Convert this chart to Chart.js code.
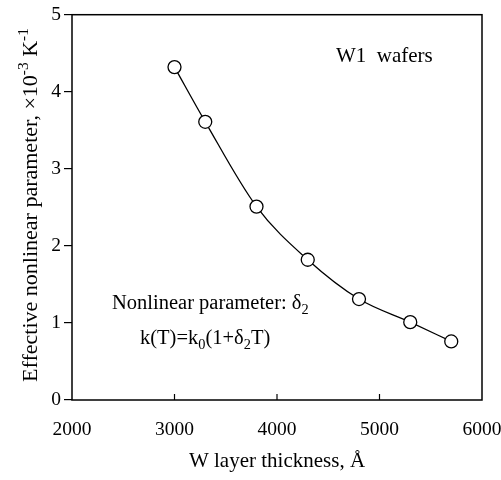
<!DOCTYPE html>
<html lang="en">
<head>
  <meta charset="UTF-8">
  <title>Effective nonlinear parameter vs W layer thickness</title>
  <script src="https://cdn.jsdelivr.net/npm/chart.js@4"></script>
  <style>
    html, body { margin: 0; padding: 0; background: #ffffff; }
    #wrap { width: 501px; height: 480px; }
  </style>
</head>
<body>
  <div id="wrap"><canvas id="grafico"></canvas></div>

  <script>
    // data
    const thickness = [3000, 3300, 3800, 4300, 4800, 5300, 5700];
    const nonlinear = [4.32, 3.61, 2.51, 1.82, 1.31, 1.01, 0.76];
    const xTicks = [2000, 3000, 4000, 5000, 6000];
    const yTicks = [0, 1, 2, 3, 4, 5];

    const serif = "'Liberation Serif', 'Times New Roman', serif";

    // draw a line of text made of pieces, some raised or lowered
    function richText(ctx, parts, x, y, size, align) {
      const widths = parts.map(p => {
        ctx.font = (p.sup || p.sub ? size * 0.7 : size) + 'px ' + serif;
        return ctx.measureText(p.t).width;
      });
      const total = widths.reduce((a, b) => a + b, 0);
      let cx = align === 'center' ? x - total / 2 : x;
      parts.forEach((p, i) => {
        ctx.font = (p.sup || p.sub ? size * 0.7 : size) + 'px ' + serif;
        let dy = 0;
        if (p.sup) dy = -size * 0.42;
        if (p.sub) dy = size * 0.22;
        ctx.fillText(p.t, cx, y + dy);
        cx += widths[i];
      });
    }

    const extras = {
      id: 'extras',
      afterDraw(chart) {
        const { ctx, chartArea: a, scales } = chart;
        ctx.save();
        // frame
        ctx.strokeStyle = '#000';
        ctx.lineWidth = 1.5;
        ctx.strokeRect(a.left, a.top, a.right - a.left, a.bottom - a.top);

        // inward ticks on bottom axis
        ctx.lineWidth = 1.2;
        scales.x.ticks.forEach(t => {
          if (t.value === scales.x.min || t.value === scales.x.max) return;
          const px = scales.x.getPixelForValue(t.value);
          ctx.beginPath();
          ctx.moveTo(px, a.bottom);
          ctx.lineTo(px, a.bottom - 6);
          ctx.stroke();
        });

        ctx.fillStyle = '#000';
        ctx.textBaseline = 'alphabetic';

        // x title
        richText(ctx, [{ t: 'W layer thickness, Å' }], 277, 467, 21, 'center');

        // y title, rotated
        ctx.save();
        ctx.translate(37, 205);
        ctx.rotate(-Math.PI / 2);
        richText(ctx, [
          { t: 'Effective nonlinear parameter, ×10' },
          { t: '-3', sup: true },
          { t: ' K' },
          { t: '-1', sup: true }
        ], 0, 0, 22, 'center');
        ctx.restore();

        // labels inside the plot
        richText(ctx, [{ t: 'W1  wafers' }], 336, 62, 21, 'left');
        richText(ctx, [{ t: 'Nonlinear parameter: δ' }, { t: '2', sub: true }], 112, 309, 20.5, 'left');
        richText(ctx, [
          { t: 'k(T)=k' }, { t: '0', sub: true },
          { t: '(1+δ' }, { t: '2', sub: true }, { t: 'T)' }
        ], 140, 344, 20.5, 'left');
        ctx.restore();
      }
    };

    new Chart(document.getElementById('grafico'), {
      type: 'scatter',
      data: {
        datasets: [{
          data: thickness.map((x, i) => ({ x: x, y: nonlinear[i] })),
          showLine: true,
          borderColor: '#000',
          borderWidth: 1.3,
          cubicInterpolationMode: 'monotone',
          pointRadius: 6.5,
          pointBackgroundColor: '#fff',
          pointBorderColor: '#000',
          pointBorderWidth: 1.3
        }]
      },
      options: {
        responsive: true,
        maintainAspectRatio: false,
        animation: false,
        layout: { padding: { top: 12, right: 19, left: 0, bottom: 0 } },
        plugins: {
          legend: { display: false },
          tooltip: { enabled: false }
        },
        scales: {
          x: {
            type: 'linear',
            min: 2000,
            max: 6000,
            afterBuildTicks: s => { s.ticks = xTicks.map(v => ({ value: v })); },
            afterFit: s => {
              s.height = 80;
              // keep the label padding from shrinking the plot
              s.paddingLeft = 0;
              s.paddingRight = 0;
            },
            grid: { drawOnChartArea: false, drawTicks: false },
            border: { display: false },
            ticks: {
              color: '#000',
              padding: 18,
              maxRotation: 0,
              callback: v => String(v),
              font: { family: serif, size: 19.5 }
            }
          },
          y: {
            min: 0,
            max: 5,
            afterBuildTicks: s => { s.ticks = yTicks.map(v => ({ value: v })); },
            afterFit: s => { s.width = 72; },
            grid: { drawOnChartArea: false, tickLength: 8, color: '#000', lineWidth: 1.2 },
            border: { display: false },
            ticks: {
              color: '#000',
              padding: 3,
              callback: v => String(v),
              font: { family: serif, size: 19.5 }
            }
          }
        }
      },
      plugins: [extras]
    });
  </script>
</body>
</html>
